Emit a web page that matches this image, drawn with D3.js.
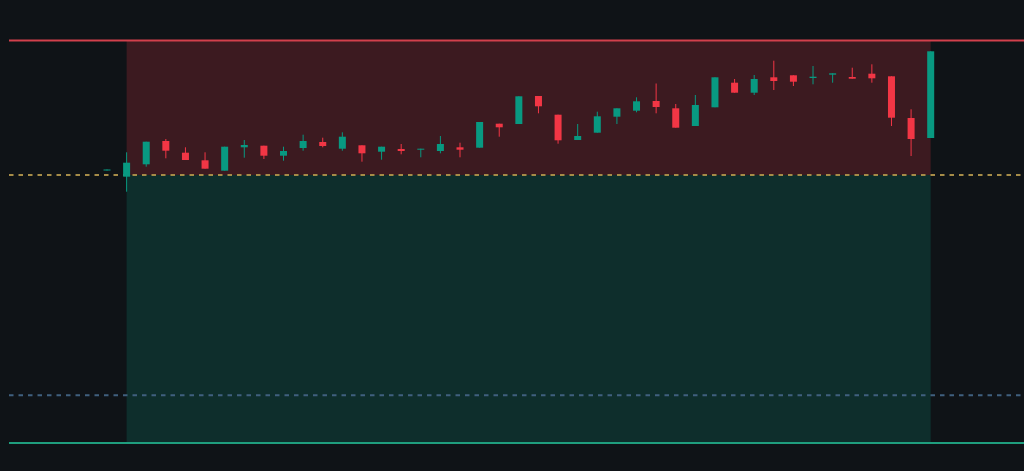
<!DOCTYPE html>
<html>
<head>
<meta charset="utf-8">
<script src="https://cdn.jsdelivr.net/npm/d3@7"></script>
<style>
  html, body { margin: 0; padding: 0; background: #0f1317; overflow: hidden; }
  svg { display: block; }
</style>
</head>
<body>
<svg id="chart" width="1024" height="471"></svg>
<script>
// ---- Data (prices) ----
const bars = d3.range(1, 44); // bar numbers
const open  = [100.45, 99.83, 101.07, 103.40, 102.23, 101.47, 100.43, 102.77, 102.93, 101.93,
               102.70, 103.30, 102.63, 102.97, 102.33, 102.60, 102.53, 102.40, 102.77, 102.73,
               105.13, 105.10, 107.90, 106.03, 103.50, 104.23, 105.83, 106.43, 107.40, 106.67,
               104.90, 106.77, 109.23, 108.23, 109.77, 109.97, 109.70, 110.03, 109.80, 110.13,
               109.87, 105.70, 103.70];
const high  = [100.55, 102.27, 103.33, 103.60, 102.77, 102.27, 102.83, 103.50, 102.93, 102.83,
               104.03, 103.73, 104.27, 102.97, 102.83, 103.10, 102.63, 103.90, 103.23, 105.30,
               105.13, 107.87, 107.90, 106.03, 105.10, 106.33, 106.67, 107.77, 109.15, 107.10,
               108.00, 109.77, 109.60, 110.00, 111.43, 109.97, 110.90, 110.17, 110.73, 111.07,
               109.87, 106.57, 112.37];
const low   = [100.45, 98.33, 100.83, 101.67, 101.50, 100.63, 100.43, 101.73, 101.60, 101.43,
               102.43, 102.77, 102.43, 101.33, 101.53, 102.07, 101.77, 102.17, 101.77, 102.73,
               103.83, 105.10, 106.17, 103.13, 103.50, 104.23, 105.10, 106.27, 106.17, 104.73,
               104.90, 106.77, 108.23, 108.00, 108.50, 108.90, 109.07, 109.23, 109.63, 109.23,
               104.90, 101.90, 103.70];
const close = [100.55, 101.23, 103.33, 102.43, 101.50, 100.63, 102.83, 103.00, 101.93, 102.40,
               103.40, 102.90, 103.83, 102.17, 102.83, 102.40, 102.63, 103.10, 102.53, 105.30,
               104.77, 107.87, 106.87, 103.47, 103.90, 105.87, 106.67, 107.37, 106.80, 104.73,
               107.00, 109.77, 108.23, 109.60, 109.40, 109.33, 109.83, 110.17, 109.63, 109.67,
               105.73, 103.60, 112.37];

// Position tool levels
const levelNames  = ["stop", "entry", "target", "extra"];
const levelPrices = [113.45, 100.00, 73.20, 77.97];
const positionStartBar = 2;   // box starts at this bar
const positionEndBar = 43;    // box ends at this bar

// ---- Layout ----
const W = 1024, H = 471;
const svg = d3.select("#chart");
svg.append("rect").attr("width", W).attr("height", H).attr("fill", "#0f1317");

const x = d3.scalePoint().domain(bars).range([107, 930.7]);
const y = d3.scaleLinear().domain([70.4, 117.5]).range([471, 0]);

const COLOR_UP = "#089981", COLOR_DN = "#f23645";
const lvl = Object.fromEntries(levelNames.map((n, i) => [n, levelPrices[i]]));

// Position areas
const x0 = x(positionStartBar), x1 = x(positionEndBar);
svg.append("rect")
  .attr("x", x0).attr("width", x1 - x0)
  .attr("y", y(lvl.stop)).attr("height", y(lvl.entry) - y(lvl.stop))
  .attr("fill", "rgba(242,54,69,0.2)");
svg.append("rect")
  .attr("x", x0).attr("width", x1 - x0)
  .attr("y", y(lvl.entry)).attr("height", y(lvl.target) - y(lvl.entry))
  .attr("fill", "rgba(8,153,129,0.2)");

// Horizontal lines
svg.append("line").attr("x1", 9).attr("x2", W)
  .attr("y1", y(lvl.stop)).attr("y2", y(lvl.stop))
  .attr("stroke", "#d2404c").attr("stroke-width", 2);
svg.append("line").attr("x1", 9).attr("x2", W)
  .attr("y1", y(lvl.target)).attr("y2", y(lvl.target))
  .attr("stroke", "#1f9e7e").attr("stroke-width", 2);
svg.append("line").attr("x1", 9).attr("x2", W)
  .attr("y1", y(lvl.entry)).attr("y2", y(lvl.entry))
  .attr("stroke", "#a68c48").attr("stroke-width", 2)
  .attr("stroke-dasharray", "4.5,5");
svg.append("line").attr("x1", 9).attr("x2", W)
  .attr("y1", y(lvl.extra)).attr("y2", y(lvl.extra))
  .attr("stroke", "#40607f").attr("stroke-width", 2)
  .attr("stroke-dasharray", "4.5,5");

// Candles
const data = bars.map((b, i) => ({ b, o: open[i], h: high[i], l: low[i], c: close[i] }));
const bw = 7;
const g = svg.append("g");
const cg = g.selectAll("g.c").data(data).enter().append("g");
cg.append("line")
  .attr("x1", d => x(d.b)).attr("x2", d => x(d.b))
  .attr("y1", d => y(d.h)).attr("y2", d => y(d.l))
  .attr("stroke", d => d.c >= d.o ? COLOR_UP : COLOR_DN)
  .attr("stroke-width", 1);
cg.append("rect")
  .attr("x", d => x(d.b) - bw / 2).attr("width", bw)
  .attr("y", d => y(Math.max(d.o, d.c)))
  .attr("height", d => Math.max(1, Math.abs(y(d.o) - y(d.c))))
  .attr("fill", d => d.c >= d.o ? COLOR_UP : COLOR_DN);
</script>
</body>
</html>
